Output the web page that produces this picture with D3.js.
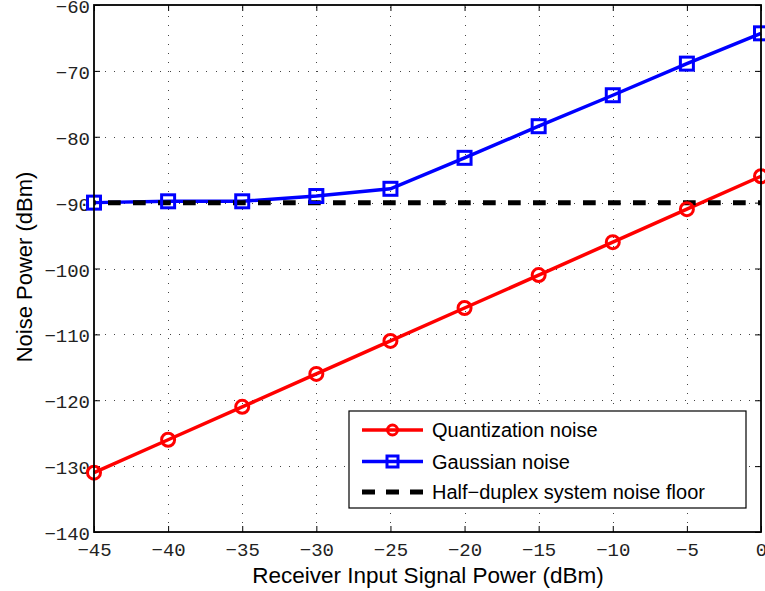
<!DOCTYPE html>
<html>
<head>
<meta charset="utf-8">
<script src="https://cdn.jsdelivr.net/npm/d3@7"></script>
<style>
  html, body { margin: 0; padding: 0; background: #fff; }
  svg { display: block; }
</style>
</head>
<body>
<svg id="chart" width="765" height="591"></svg>
<script>
// Input signal power levels (dBm)
const inputPower = [-45, -40, -35, -30, -25, -20, -15, -10, -5, 0];
// Noise power for each source (dBm)
const quantizationNoise = [-131, -126, -121, -116, -111, -106, -101, -96, -91, -86];
const gaussianNoise = [-90.0, -89.8, -89.8, -89.0, -87.9, -83.2, -78.4, -73.7, -68.9, -64.3];
const noiseFloor = -90;
const xTicks = [-45, -40, -35, -30, -25, -20, -15, -10, -5, 0];
const yTicks = [-140, -130, -120, -110, -100, -90, -80, -70, -60];
const legendLabels = ["Quantization noise", "Gaussian noise", "Half\u2212duplex system noise floor"];

(function () {
const svg = d3.select("#chart");
const pLeft = 94, pRight = 761, pTop = 5, pBottom = 532;

const x = d3.scaleLinear().domain([-45, 0]).range([pLeft, pRight]);
const y = d3.scaleLinear().domain([-140, -60]).range([pBottom, pTop]);
const px = v => Math.round(v) + 0.5;

const tickFont = "'Liberation Mono', 'DejaVu Sans Mono', monospace";
const labelFont = "'Liberation Sans', Arial, sans-serif";

// dotted grid
const grid = svg.append("g").attr("shape-rendering", "crispEdges");
grid.selectAll("line.vx").data(xTicks.slice(1, -1)).join("line")
  .attr("x1", d => px(x(d))).attr("x2", d => px(x(d)))
  .attr("y1", pTop + 2).attr("y2", pBottom)
  .attr("stroke", "#444").attr("stroke-width", 1).attr("stroke-dasharray", "1,8.2");
grid.selectAll("line.hy").data(yTicks.slice(1, -1)).join("line")
  .attr("x1", pLeft + 2).attr("x2", pRight)
  .attr("y1", d => px(y(d))).attr("y2", d => px(y(d)))
  .attr("stroke", "#444").attr("stroke-width", 1).attr("stroke-dasharray", "1,8.2");

// axes with inward ticks on all four sides
const axB = svg.append("g").attr("transform", `translate(0,${pBottom})`)
  .call(d3.axisBottom(x).tickValues(xTicks).tickSize(-6).tickPadding(11).tickFormat(d => d === 0 ? "0" : "\u2212" + Math.abs(d)));
const axL = svg.append("g").attr("transform", `translate(${pLeft},0)`)
  .call(d3.axisLeft(y).tickValues(yTicks).tickSize(-6).tickPadding(4).tickFormat(d => "\u2212" + Math.abs(d)));
const axT = svg.append("g").attr("transform", `translate(0,${pTop})`)
  .call(d3.axisTop(x).tickValues(xTicks).tickSize(-6).tickFormat(""));
const axR = svg.append("g").attr("transform", `translate(${pRight},0)`)
  .call(d3.axisRight(y).tickValues(yTicks).tickSize(-6).tickFormat(""));
[axB, axL, axT, axR].forEach(g => {
  g.select(".domain").remove();
  g.selectAll(".tick line").attr("stroke", "#000").attr("stroke-width", 1);
  g.selectAll("text").attr("font-family", tickFont).attr("font-size", 19).attr("fill", "#222");
});
axL.selectAll("text").attr("dy", "0.4em");

// data lines
const line = d3.line().x(d => x(d[0])).y(d => y(d[1]));
const qData = inputPower.map((p, i) => [p, quantizationNoise[i]]);
const gData = inputPower.map((p, i) => [p, gaussianNoise[i]]);

svg.append("path").datum(qData).attr("d", line)
  .attr("fill", "none").attr("stroke", "#ff0000").attr("stroke-width", 3.5);
svg.append("path").datum(gData).attr("d", line)
  .attr("fill", "none").attr("stroke", "#0000ff").attr("stroke-width", 3.5);
svg.append("line")
  .attr("x1", x(-45)).attr("x2", x(0))
  .attr("y1", y(noiseFloor)).attr("y2", y(noiseFloor))
  .attr("stroke", "#000").attr("stroke-width", 5)
  .attr("stroke-dasharray", "12.7,12.3").attr("stroke-dashoffset", 11);

svg.selectAll("circle.q").data(qData).join("circle")
  .attr("cx", d => x(d[0])).attr("cy", d => y(d[1])).attr("r", 6.5)
  .attr("fill", "none").attr("stroke", "#ff0000").attr("stroke-width", 3);
svg.selectAll("rect.g").data(gData).join("rect")
  .attr("x", d => x(d[0]) - 6.5).attr("y", d => y(d[1]) - 6.5)
  .attr("width", 13).attr("height", 13)
  .attr("fill", "none").attr("stroke", "#0000ff").attr("stroke-width", 3);

// axis frame
svg.append("rect").attr("x", pLeft).attr("y", pTop)
  .attr("width", pRight - pLeft).attr("height", pBottom - pTop)
  .attr("fill", "none").attr("stroke", "#000").attr("stroke-width", 1.8);

// axis titles
svg.append("text").attr("x", (pLeft + pRight) / 2 + 0.5).attr("y", 583)
  .attr("text-anchor", "middle").attr("font-family", labelFont).attr("font-size", 22.5)
  .text("Receiver Input Signal Power (dBm)");
svg.append("text").attr("transform", `translate(32,${267}) rotate(-90)`)
  .attr("text-anchor", "middle").attr("font-family", labelFont).attr("font-size", 22)
  .text("Noise Power (dBm)");

// legend
const lg = svg.append("g");
lg.append("rect").attr("x", 349).attr("y", 411).attr("width", 397).attr("height", 97)
  .attr("fill", "#fff").attr("stroke", "#000").attr("stroke-width", 1.2);
const rows = [430, 461.5, 492];
const colors = ["#ff0000", "#0000ff", "#000"];
rows.forEach((ry, i) => {
  if (i < 2) {
    lg.append("line").attr("x1", 362).attr("x2", 423).attr("y1", ry).attr("y2", ry)
      .attr("stroke", colors[i]).attr("stroke-width", 3.5);
  } else {
    lg.append("line").attr("x1", 362).attr("x2", 423).attr("y1", ry).attr("y2", ry)
      .attr("stroke", "#000").attr("stroke-width", 5).attr("stroke-dasharray", "13,11");
  }
  if (i === 0) {
    lg.append("circle").attr("cx", 392.5).attr("cy", ry).attr("r", 5)
      .attr("fill", "none").attr("stroke", colors[i]).attr("stroke-width", 3);
  } else if (i === 1) {
    lg.append("rect").attr("x", 387).attr("y", ry - 5.5).attr("width", 11).attr("height", 11)
      .attr("fill", "none").attr("stroke", colors[i]).attr("stroke-width", 3);
  }
  lg.append("text").attr("x", 432).attr("y", ry).attr("dy", "0.36em")
    .attr("font-family", labelFont).attr("font-size", 20).text(legendLabels[i]);
});
})();
</script>
</body>
</html>
